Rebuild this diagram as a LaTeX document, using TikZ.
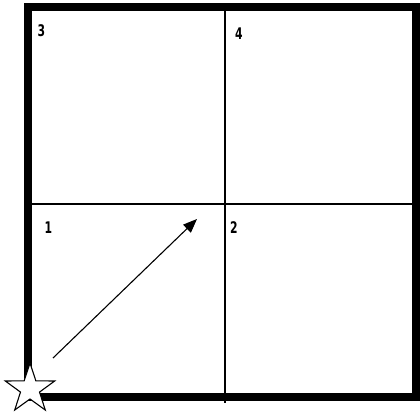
\documentclass[tikz,border=0pt]{standalone}
\usepackage{fontspec}
\newfontfamily\numfont{DejaVu Sans Condensed}
\usetikzlibrary{shapes.geometric,arrows.meta}
\begin{document}
\begin{tikzpicture}[x=1pt,y=-1pt,
  frame/.style={line width=8pt},
  divider/.style={line width=1.5pt},
  num/.style={font=\numfont\bfseries\fontsize{16}{16}\selectfont,inner sep=0pt,xscale=0.75},
  mover/.style={line width=1.1pt,-{Triangle[length=14pt,width=11pt]}},
  startstar/.style={star,star points=5,star point ratio=2.6,minimum size=52pt,inner sep=0pt,draw,fill=white,line width=1.1pt}]
\useasboundingbox (0,0) rectangle (420,414);
\draw[frame] (27.5,7) rectangle (416,397);
\coordinate (vtop) at (225,11);
\coordinate (vbot) at (225,403);
\coordinate (hl) at (32,204);
\coordinate (hr) at (412,204);
\draw[divider] (vtop) -- (vbot);
\draw[divider] (hl) -- (hr);
\node[num] (n3) at (41.5,30.5) {3};
\node[num] (n4) at (239,34) {4};
\node[num] (n1) at (48.5,227.5) {1};
\node[num] (n2) at (234,228) {2};
\node[startstar] (s) at (30,389) {};
\coordinate (a0) at (53,358);
\coordinate (a1) at (197,219);
\draw[mover] (a0) -- (a1);
\end{tikzpicture}
\end{document}
